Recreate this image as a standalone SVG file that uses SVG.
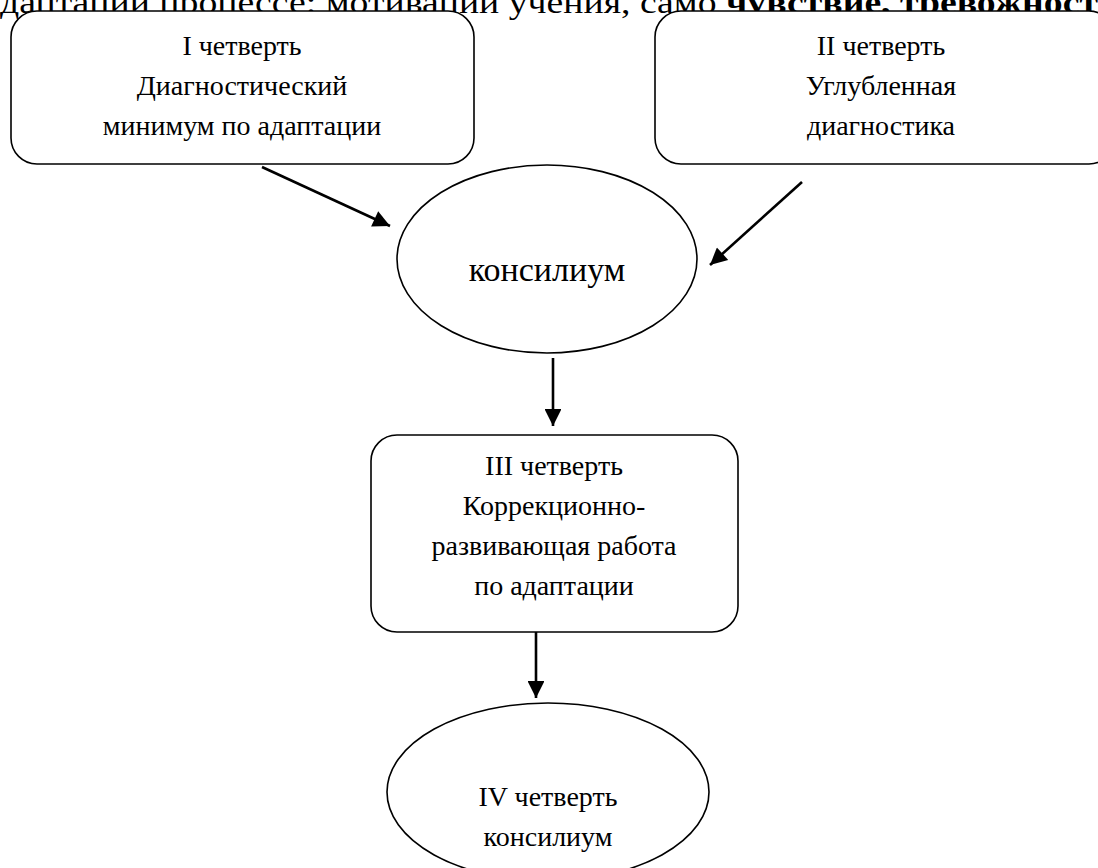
<svg xmlns="http://www.w3.org/2000/svg" width="1098" height="868" viewBox="0 0 1098 868">
<defs>
<marker id="ah" viewBox="0 0 10 10" refX="10" refY="5" markerWidth="7" markerHeight="6.5" markerUnits="strokeWidth" orient="auto">
<path d="M0,0 L10,5 L0,10 z" fill="#000"/>
</marker>
</defs>
<style>
.box{fill:#fff;stroke:#000;stroke-width:1.6}
.t{font-family:"Liberation Serif","Times New Roman",serif;font-size:28px;fill:#000;text-anchor:middle}
.c{stroke:#000;stroke-width:2.6;fill:none;marker-end:url(#ah)}
</style>
<rect width="1098" height="868" fill="#fff"/>
<text x="0" y="13" font-family="Liberation Serif, serif" font-size="31" textLength="1098" lengthAdjust="spacingAndGlyphs">даптации процессе: мотивации учения, само <tspan font-weight="bold">чувствие, тревожност</tspan></text>
<g id="q1">
<rect class="box" x="11" y="11" width="463" height="153" rx="26"/>
<text class="t" x="242" y="55">I четверть</text>
<text class="t" x="242" y="95">Диагностический</text>
<text class="t" x="242" y="135">минимум по адаптации</text>
</g>
<g id="q2">
<rect class="box" x="655" y="11" width="460" height="153" rx="26"/>
<text class="t" x="881" y="55">II четверть</text>
<text class="t" x="881" y="95">Углубленная</text>
<text class="t" x="881" y="135">диагностика</text>
</g>
<g id="council">
<ellipse class="box" cx="547" cy="259" rx="150" ry="94"/>
<text class="t" x="547" y="281" style="font-size:34px">консилиум</text>
</g>
<g id="q3">
<rect class="box" x="371" y="435" width="367" height="197" rx="26"/>
<text class="t" x="554" y="475">III четверть</text>
<text class="t" x="554" y="515">Коррекционно-</text>
<text class="t" x="554" y="555">развивающая работа</text>
<text class="t" x="554" y="595">по адаптации</text>
</g>
<g id="q4">
<ellipse class="box" cx="548" cy="792" rx="161" ry="89"/>
<text class="t" x="548" y="806">IV четверть</text>
<text class="t" x="548" y="846">консилиум</text>
</g>
<g id="connectors">
<line class="c" x1="262" y1="167" x2="390" y2="226"/>
<line class="c" x1="802" y1="182" x2="710" y2="265"/>
<line class="c" x1="553" y1="358" x2="553" y2="426"/>
<line class="c" x1="536" y1="632" x2="536" y2="698"/>
</g>
</svg>
